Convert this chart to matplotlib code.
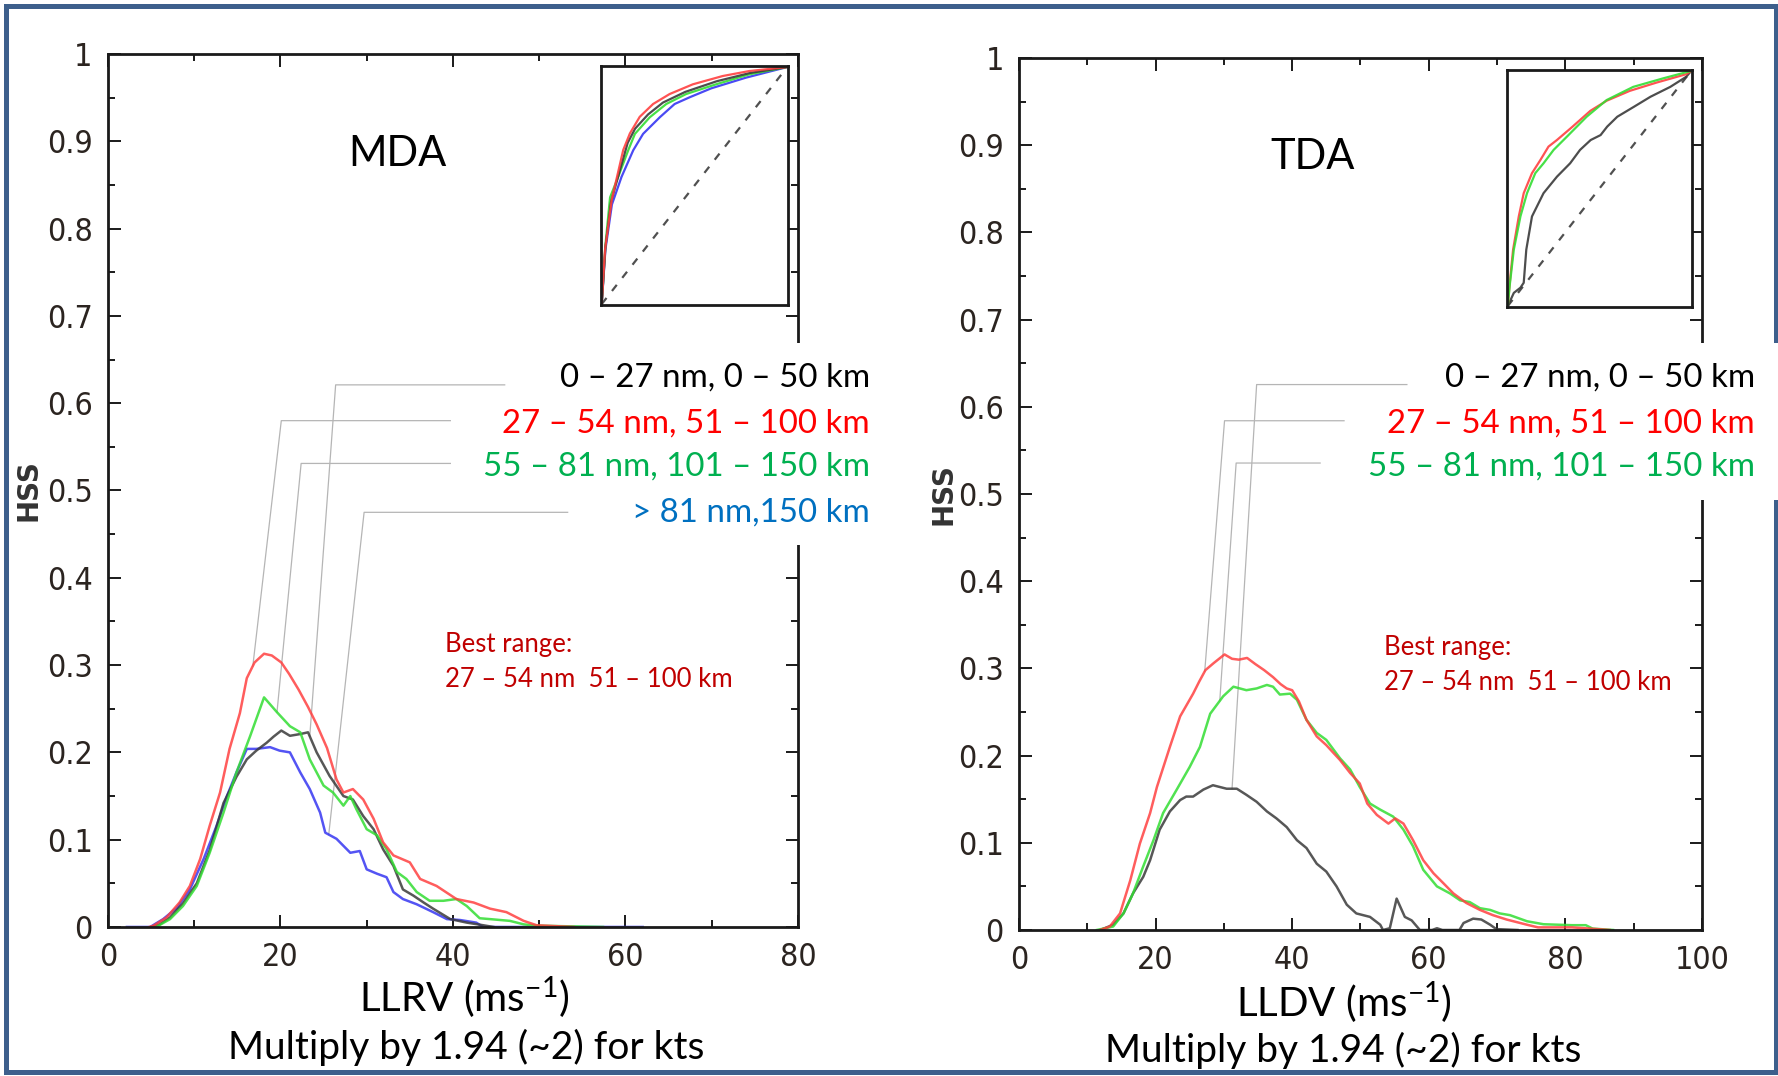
import numpy as np
import matplotlib
matplotlib.use("Agg")
import matplotlib.pyplot as plt
from matplotlib.patches import Rectangle

plt.rcParams['mathtext.fontset'] = 'custom'
plt.rcParams['mathtext.rm'] = 'Lato'
plt.rcParams['mathtext.it'] = 'Lato:italic'
plt.rcParams['mathtext.bf'] = 'Lato:bold'

TEXT_FONT = ['Lato', 'DejaVu Sans']
TICK_FONT = ['Liberation Sans Narrow', 'DejaVu Sans']

C_BLACK = '#3a3a3a'
C_RED = '#ff4040'
C_GREEN = '#33dd33'
C_BLUE = '#3636f2'

# ---- MDA: HSS vs LLRV, one curve per range band ----
mda_black_x = [5.0, 6.0, 7.2, 8.7, 10.3, 11.8, 13.4, 14.9, 16.1, 17.2, 18.4, 19.2, 20.1, 21.1, 22.3, 23.2,
               24.2, 25.7, 27.3, 28.4, 29.6, 30.8, 31.9, 33.1, 34.2, 35.4, 36.6, 37.7, 39.7, 41.6, 43.5, 44.7]
mda_black_y = [0, 0.003, 0.011, 0.027, 0.050, 0.088, 0.142, 0.172, 0.192, 0.202, 0.211, 0.218, 0.225, 0.219,
               0.221, 0.223, 0.200, 0.173, 0.150, 0.146, 0.127, 0.112, 0.089, 0.070, 0.043, 0.036, 0.028,
               0.021, 0.009, 0.005, 0.002, 0.0]

mda_red_x = [4.8, 5.3, 6.8, 8.3, 9.5, 10.7, 11.8, 13.0, 14.1, 15.3, 16.1, 17.0, 18.1, 19.0, 20.1, 21.0, 22.1,
             23.2, 24.2, 25.4, 26.5, 27.3, 28.4, 29.6, 30.8, 31.9, 33.1, 35.0, 36.2, 38.1, 40.4, 42.4, 44.3,
             46.2, 48.2, 49.7, 54.0]
mda_red_y = [0, 0.0015, 0.011, 0.028, 0.047, 0.078, 0.116, 0.154, 0.204, 0.245, 0.285, 0.303, 0.313, 0.311,
             0.303, 0.290, 0.272, 0.252, 0.232, 0.205, 0.169, 0.154, 0.158, 0.146, 0.124, 0.097, 0.082,
             0.074, 0.055, 0.047, 0.032, 0.028, 0.021, 0.017, 0.007, 0.002, 0.0]

mda_green_x = [5.6, 7.2, 8.7, 10.3, 11.8, 13.4, 14.9, 16.5, 18.1, 19.6, 21.1, 22.3, 23.4, 25.0, 26.1, 27.3,
               28.1, 28.8, 30.0, 31.2, 32.3, 33.5, 34.6, 35.8, 37.3, 38.9, 40.4, 41.6, 43.1, 44.3, 46.6,
               48.2, 49.7, 57.4]
mda_green_y = [0, 0.009, 0.024, 0.047, 0.085, 0.131, 0.177, 0.219, 0.263, 0.246, 0.230, 0.223, 0.192, 0.162,
               0.154, 0.139, 0.150, 0.135, 0.112, 0.105, 0.089, 0.063, 0.055, 0.040, 0.030, 0.030, 0.032,
               0.024, 0.010, 0.009, 0.007, 0.003, 0.0015, 0.0]

mda_blue_x = [2.2, 4.9, 6.4, 8.0, 9.5, 11.1, 12.6, 13.8, 14.9, 16.1, 17.2, 18.8, 19.9, 21.1, 22.3, 23.4, 24.6,
              25.2, 26.5, 28.1, 29.2, 30.0, 31.2, 32.3, 33.1, 34.2, 35.8, 37.7, 39.3, 40.8, 42.7, 43.5, 62.0]
mda_blue_y = [0, 0, 0.009, 0.022, 0.043, 0.078, 0.116, 0.150, 0.177, 0.204, 0.204, 0.206, 0.202, 0.200, 0.177,
              0.158, 0.131, 0.108, 0.101, 0.085, 0.087, 0.066, 0.061, 0.057, 0.040, 0.032, 0.026, 0.017,
              0.009, 0.008, 0.005, 0.0, 0.0]

# ---- TDA: HSS vs LLDV ----
tda_black_x = [11.9, 13.8, 15.3, 16.7, 18.2, 19.2, 20.6, 22.1, 23.6, 24.5, 25.5, 27.0, 28.4, 29.4, 30.4, 31.9,
               33.3, 34.8, 36.3, 37.7, 39.2, 40.7, 42.1, 43.6, 45.0, 46.5, 48.0, 49.4, 51.4, 52.9, 53.3,
               54.3, 55.3, 56.5, 57.5, 58.7, 60.5, 61.2, 62.0, 64.5, 65.1, 66.5, 67.7, 69.0, 69.9, 73.0]
tda_black_y = [0, 0.006, 0.019, 0.042, 0.061, 0.080, 0.115, 0.136, 0.149, 0.153, 0.153, 0.161, 0.166, 0.164,
               0.162, 0.162, 0.155, 0.147, 0.136, 0.128, 0.118, 0.103, 0.094, 0.076, 0.067, 0.050, 0.029,
               0.019, 0.015, 0.006, 0.0, 0.002, 0.036, 0.015, 0.011, 0.0, 0.0, 0.002, 0.0, 0.0, 0.008,
               0.013, 0.012, 0.006, 0.001, 0.0]

tda_red_x = [11.9, 13.3, 14.8, 16.3, 17.7, 19.2, 20.2, 22.1, 23.6, 25.5, 26.4, 27.3, 28.5, 30.1, 31.2, 32.2,
             33.4, 34.6, 35.9, 37.2, 38.3, 39.2, 40.0, 41.0, 42.1, 43.6, 45.0, 47.0, 48.5, 49.9, 51.0, 52.4,
             54.1, 55.1, 56.3, 57.7, 59.2, 60.7, 62.1, 63.6, 65.5, 67.5, 69.4, 71.4, 74.4, 76.0, 81.0, 86.5]
tda_red_y = [0, 0.004, 0.019, 0.057, 0.099, 0.134, 0.164, 0.210, 0.245, 0.271, 0.285, 0.298, 0.306, 0.316,
             0.311, 0.310, 0.312, 0.305, 0.298, 0.290, 0.282, 0.277, 0.275, 0.262, 0.241, 0.222, 0.212,
             0.195, 0.180, 0.168, 0.145, 0.132, 0.122, 0.128, 0.122, 0.103, 0.080, 0.065, 0.054, 0.042,
             0.031, 0.023, 0.017, 0.012, 0.006, 0.003, 0.003, 0.0]

tda_green_x = [11.4, 13.8, 15.3, 16.7, 18.2, 19.7, 21.1, 23.1, 25.0, 26.5, 28.0, 29.9, 31.4, 33.3, 34.8, 36.3,
               37.2, 38.2, 39.7, 40.7, 42.1, 43.6, 45.0, 47.0, 48.5, 49.9, 51.4, 52.9, 54.8, 56.3, 57.7,
               59.2, 61.2, 63.1, 64.6, 66.0, 67.5, 69.0, 70.4, 71.9, 74.4, 76.8, 81.0, 83.0, 84.0, 87.0]
tda_green_y = [0, 0.004, 0.019, 0.042, 0.073, 0.103, 0.134, 0.161, 0.187, 0.210, 0.248, 0.268, 0.279, 0.275,
               0.277, 0.281, 0.279, 0.270, 0.271, 0.264, 0.241, 0.226, 0.218, 0.197, 0.184, 0.164, 0.145,
               0.138, 0.130, 0.115, 0.096, 0.069, 0.050, 0.042, 0.034, 0.032, 0.025, 0.023, 0.019, 0.017,
               0.010, 0.0066, 0.0055, 0.0055, 0.0016, 0.0]

# ---- ROC insets (POFD vs POD) ----
mda_roc_red_x = [0, 0.018, 0.054, 0.116, 0.152, 0.205, 0.277, 0.366, 0.491, 0.652, 0.795, 1.0]
mda_roc_red_y = [0, 0.23, 0.44, 0.65, 0.72, 0.79, 0.844, 0.886, 0.927, 0.962, 0.983, 1.0]
mda_roc_black_x = [0, 0.02, 0.05, 0.10, 0.14, 0.18, 0.25, 0.33, 0.45, 0.62, 0.80, 1.0]
mda_roc_black_y = [0, 0.24, 0.43, 0.57, 0.68, 0.74, 0.80, 0.85, 0.895, 0.94, 0.975, 1.0]
mda_roc_green_x = [0, 0.02, 0.045, 0.089, 0.143, 0.179, 0.259, 0.348, 0.455, 0.616, 0.795, 1.0]
mda_roc_green_y = [0, 0.25, 0.45, 0.537, 0.649, 0.718, 0.788, 0.844, 0.886, 0.927, 0.969, 1.0]
mda_roc_blue_x = [0, 0.02, 0.055, 0.107, 0.170, 0.223, 0.313, 0.393, 0.473, 0.59, 0.777, 1.0]
mda_roc_blue_y = [0, 0.23, 0.42, 0.537, 0.649, 0.718, 0.788, 0.844, 0.872, 0.91, 0.955, 1.0]

tda_roc_red_x = [0, 0.011, 0.029, 0.060, 0.087, 0.132, 0.177, 0.222, 0.268, 0.349, 0.45, 0.539, 0.665, 0.81,
                 0.973, 1.0]
tda_roc_red_y = [0, 0.099, 0.24, 0.381, 0.48, 0.565, 0.62, 0.678, 0.706, 0.76, 0.83, 0.873, 0.915, 0.95,
                 0.986, 1.0]
tda_roc_green_x = [0, 0.011, 0.033, 0.069, 0.105, 0.150, 0.195, 0.250, 0.322, 0.430, 0.539, 0.684, 0.846, 1.0]
tda_roc_green_y = [0, 0.09, 0.24, 0.381, 0.48, 0.565, 0.607, 0.664, 0.72, 0.805, 0.876, 0.932, 0.968, 1.0]
tda_roc_black_x = [0, 0.033, 0.069, 0.087, 0.101, 0.132, 0.195, 0.268, 0.340, 0.394, 0.452, 0.506, 0.542,
                   0.597, 0.687, 0.778, 0.886, 0.973, 1.0]
tda_roc_black_y = [0, 0.056, 0.078, 0.099, 0.24, 0.381, 0.48, 0.55, 0.607, 0.664, 0.706, 0.727, 0.763, 0.805,
                   0.847, 0.89, 0.932, 0.975, 1.0]

mda_labels = ['0 – 27 nm, 0 – 50 km', '27 – 54 nm, 51 – 100 km', '55 – 81 nm, 101 – 150 km', '> 81 nm,150 km']
tda_labels = mda_labels[:3]
label_colors = ['#000000', '#ff0000', '#00b050', '#0070c0']
best_range = ['Best range:', '27 – 54 nm  51 – 100 km']


def style_axes(ax, xmax, ylabel_pad):
    ax.set_xlim(0, xmax)
    ax.set_ylim(0, 1)
    ax.set_xticks(np.arange(0, xmax + 1, 20))
    ax.set_xticks(np.arange(0, xmax + 1, 10), minor=True)
    yt = np.round(np.arange(0, 1.01, 0.1), 1)
    ax.set_yticks(yt)
    ax.set_yticklabels([f'{v:g}' for v in yt])
    ax.set_yticks(np.arange(0, 1.001, 0.05), minor=True)
    ax.tick_params(which='both', direction='in', top=True, right=True, width=1.4, colors='#1a1a1a')
    ax.tick_params(which='major', length=9, pad=11, labelsize=23)
    ax.tick_params(which='minor', length=5)
    for lab in ax.get_xticklabels() + ax.get_yticklabels():
        lab.set_family(TICK_FONT)
        lab.set_stretch('condensed')
        lab.set_color('#2b2420')
    for sp in ax.spines.values():
        sp.set_linewidth(2.0)
        sp.set_color('#1a1a1a')
    ax.set_ylabel('HSS', fontsize=20, fontweight='bold', color='#333333', labelpad=ylabel_pad)


def draw_inset(rect, curves):
    ins = fig.add_axes(rect)
    ins.plot([0, 1], [0, 1], ls=(0, (3.5, 4)), color='#505050', lw=1.6)
    for xs, ys, c in curves:
        ins.plot(xs, ys, color=c, lw=1.6, alpha=0.9)
    ins.set_xlim(-0.004, 1.004)
    ins.set_ylim(-0.004, 1.004)
    ins.set_xticks([])
    ins.set_yticks([])
    for sp in ins.spines.values():
        sp.set_linewidth(2.0)
        sp.set_color('#1a1a1a')
    return ins


def leader(ax, xs, ys, target_x, elbow_x, start_x, level):
    ty = np.interp(target_x, xs, ys)
    ax.plot([start_x, elbow_x, target_x], [level, level, ty], color='#b5b5b5', lw=0.9,
            clip_on=False, zorder=1.5)


fig = plt.figure(figsize=(17.78, 10.76), dpi=100)
fig.patch.set_facecolor('white')

ax1 = fig.add_axes([0.0607, 0.1385, 0.3881, 0.8113])
ax2 = fig.add_axes([0.5731, 0.1357, 0.3841, 0.8104])

# MDA panel
style_axes(ax1, 80, 3)
ax1.plot(mda_blue_x, mda_blue_y, color=C_BLUE, lw=1.8, alpha=0.85)
ax1.plot(mda_black_x, mda_black_y, color=C_BLACK, lw=1.8, alpha=0.85)
ax1.plot(mda_green_x, mda_green_y, color=C_GREEN, lw=1.8, alpha=0.85)
ax1.plot(mda_red_x, mda_red_y, color=C_RED, lw=1.8, alpha=0.85)

leader(ax1, mda_black_x, mda_black_y, 23.4, 26.4, 46.0, 0.621)
leader(ax1, mda_red_x, mda_red_y, 16.8, 20.1, 39.7, 0.580)
leader(ax1, mda_green_x, mda_green_y, 19.6, 22.4, 39.7, 0.531)
leader(ax1, mda_blue_x, mda_blue_y, 25.6, 29.7, 53.3, 0.475)

ax1.text(33.6, 0.885, 'MDA', fontsize=30, family=TEXT_FONT, ha='center', va='center')
ax1.text(39.1, 0.324, best_range[0], fontsize=18.5, family=TEXT_FONT, color='#c00000', va='center')
ax1.text(39.1, 0.2835, best_range[1], fontsize=18.5, family=TEXT_FONT, color='#c00000', va='center')
ax1.text(0.517, -0.081, r'LLRV (ms$^{-1}$)', transform=ax1.transAxes, fontsize=29, family=TEXT_FONT,
         ha='center', va='center')
ax1.text(0.519, -0.138, 'Multiply by 1.94 (~2) for kts', transform=ax1.transAxes, fontsize=28,
         family=TEXT_FONT, ha='center', va='center')

# TDA panel
style_axes(ax2, 100, 0)
ax2.plot(tda_black_x, tda_black_y, color=C_BLACK, lw=1.8, alpha=0.85)
ax2.plot(tda_green_x, tda_green_y, color=C_GREEN, lw=1.8, alpha=0.85)
ax2.plot(tda_red_x, tda_red_y, color=C_RED, lw=1.8, alpha=0.85)

leader(ax2, tda_black_x, tda_black_y, 31.2, 34.8, 56.8, 0.6255)
leader(ax2, tda_red_x, tda_red_y, 27.2, 30.1, 47.6, 0.584)
leader(ax2, tda_green_x, tda_green_y, 29.4, 31.8, 44.1, 0.5355)

ax2.text(43.0, 0.887, 'TDA', fontsize=30, family=TEXT_FONT, ha='center', va='center')
ax2.text(53.4, 0.3245, best_range[0], fontsize=18.5, family=TEXT_FONT, color='#c00000', va='center')
ax2.text(53.4, 0.284, best_range[1], fontsize=18.5, family=TEXT_FONT, color='#c00000', va='center')
ax2.text(0.476, -0.083, r'LLDV (ms$^{-1}$)', transform=ax2.transAxes, fontsize=29, family=TEXT_FONT,
         ha='center', va='center')
ax2.text(0.475, -0.1385, 'Multiply by 1.94 (~2) for kts', transform=ax2.transAxes, fontsize=28,
         family=TEXT_FONT, ha='center', va='center')

# ROC insets
draw_inset([0.338, 0.7165, 0.1052, 0.2221],
           [(mda_roc_blue_x, mda_roc_blue_y, C_BLUE),
            (mda_roc_green_x, mda_roc_green_y, C_GREEN),
            (mda_roc_black_x, mda_roc_black_y, C_BLACK),
            (mda_roc_red_x, mda_roc_red_y, C_RED)])
draw_inset([0.8476, 0.7147, 0.1040, 0.2203],
           [(tda_roc_black_x, tda_roc_black_y, C_BLACK),
            (tda_roc_red_x, tda_roc_red_y, C_RED),
            (tda_roc_green_x, tda_roc_green_y, C_GREEN)])

# slide frame, then white label panels sitting over it
fig.add_artist(Rectangle((0.00326, 0.0037), 0.9956, 0.9909, transform=fig.transFigure, fill=False,
                         edgecolor='#3d5f8c', linewidth=3.6, zorder=2))
fig.add_artist(Rectangle((0.3262, 0.4935), 0.1716, 0.1877, transform=fig.transFigure,
                         facecolor='white', edgecolor='none', zorder=3))
fig.add_artist(Rectangle((0.8324, 0.5353), 0.1676, 0.1459, transform=fig.transFigure,
                         facecolor='white', edgecolor='none', zorder=3))

for lab, c, y in zip(mda_labels, label_colors, [0.629, 0.577, 0.527, 0.475]):
    fig.text(1.104, y, lab, transform=ax1.transAxes, color=c, fontsize=23.8, family=TEXT_FONT,
             ha='right', va='center', zorder=4)
for lab, c, y in zip(tda_labels, label_colors, [0.633, 0.581, 0.531]):
    fig.text(1.0776, y, lab, transform=ax2.transAxes, color=c, fontsize=23.8, family=TEXT_FONT,
             ha='right', va='center', zorder=4)

fig.savefig('out.png', dpi=100, facecolor='white')
